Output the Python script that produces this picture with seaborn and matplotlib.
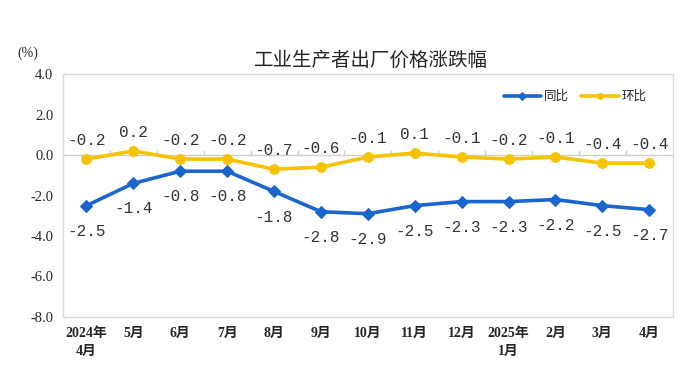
import numpy as np
import pandas as pd
import matplotlib
matplotlib.use("Agg")
import matplotlib.pyplot as plt
import seaborn as sns

# chart data
months = ["2024年\n4月", "5月", "6月", "7月", "8月", "9月", "10月", "11月",
          "12月", "2025年\n1月", "2月", "3月", "4月"]
yoy = [-2.5, -1.4, -0.8, -0.8, -1.8, -2.8, -2.9, -2.5, -2.3, -2.3, -2.2, -2.5, -2.7]
mom = [-0.2, 0.2, -0.2, -0.2, -0.7, -0.6, -0.1, 0.1, -0.1, -0.2, -0.1, -0.4, -0.4]
y_ticks = [4.0, 2.0, 0.0, -2.0, -4.0, -6.0, -8.0]

sns.set_style("white")
plt.rcParams['font.family'] = ['Liberation Serif', 'Noto Sans CJK SC', 'DejaVu Sans']
plt.rcParams['axes.unicode_minus'] = False

blue = "#1a66cc"
gold = "#f7c300"

df = pd.DataFrame({"x": np.arange(len(months)), "同比": yoy, "环比": mom})

fig = plt.figure(figsize=(7, 3.86), dpi=100)
ax = fig.add_axes([0.09, 0.179, 0.871, 0.629])

sns.lineplot(data=df, x="x", y="同比", ax=ax, color=blue, lw=2.6,
             marker="D", markersize=6.5, markeredgecolor=blue, label="同比")
sns.lineplot(data=df, x="x", y="环比", ax=ax, color=gold, lw=2.6,
             marker="o", markersize=7, markeredgecolor=gold, label="环比")

# data labels, mono font to mimic the wide spacing of the original
for i, (a, b) in enumerate(zip(yoy, mom)):
    ax.annotate(f"{b:.1f}", (i, b), xytext=(0, 8), textcoords="offset points",
                ha="center", va="bottom", fontsize=11.5, color="#333333",
                family=['Liberation Mono'])
    ax.annotate(f"{a:.1f}", (i, a), xytext=(0, -13), textcoords="offset points",
                ha="center", va="top", fontsize=11.5, color="#333333",
                family=['Liberation Mono'])

ax.axhline(0, color="#cfcfcf", lw=1, zorder=0)
ax.vlines(np.arange(0.5, len(months) - 1), 0, 0.25, color="#cfcfcf", lw=1, zorder=0)

ax.set_xlim(-0.5, len(months) - 0.5)
ax.set_ylim(-8, 4)
ax.set_yticks(y_ticks)
ax.set_yticklabels([f"{t:.1f}" for t in y_ticks], fontsize=10.5)
ax.set_xticks(df["x"])
ax.set_xticklabels(months, fontsize=10, fontweight="bold", linespacing=1.5)
ax.tick_params(axis="both", length=0, pad=7)
ax.set_xlabel("")
ax.set_ylabel("")
for s in ax.spines.values():
    s.set_color("#d9d9d9")
    s.set_linewidth(1)

leg = ax.legend(loc="upper right", ncol=2, frameon=False,
                handlelength=3.0, columnspacing=1.0, handletextpad=0.2,
                bbox_to_anchor=(0.975, 0.98), markerscale=0.6,
                prop={'family': ['Noto Sans CJK SC'], 'size': 9})

fig.text(0.53, 0.845, "工业生产者出厂价格涨跌幅", ha="center", va="center",
         fontsize=14, family=['Noto Sans CJK SC'])
fig.text(0.04, 0.862, "(%)", ha="center", va="center", fontsize=10)

fig.savefig("out.png", dpi=100, facecolor="white")
